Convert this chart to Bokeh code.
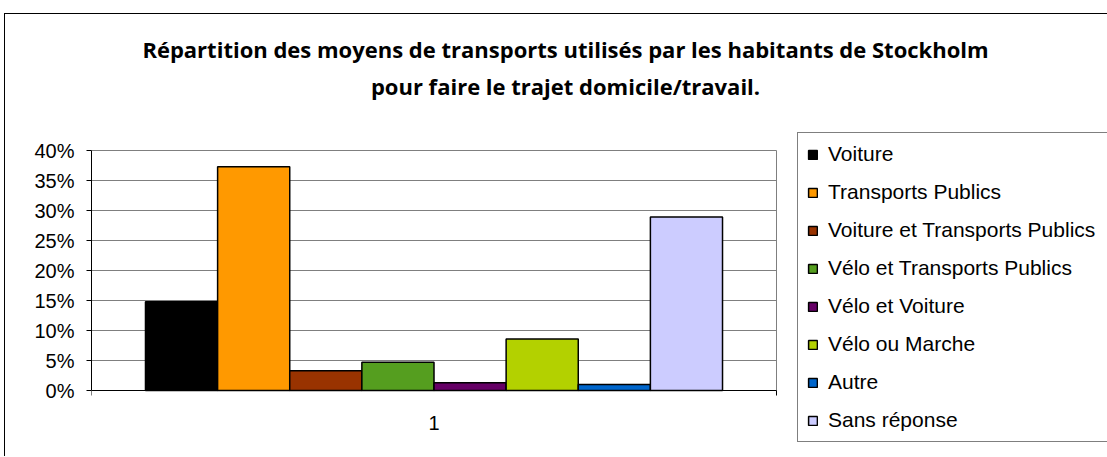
from bokeh.plotting import figure
from bokeh.models import (Range1d, FixedTicker, NumeralTickFormatter, Legend, LegendItem,
                          Label, ColumnDataSource)
from bokeh.embed import file_html
from bokeh.resources import INLINE

# ---- data ----
modes = ["Voiture", "Transports Publics", "Voiture et Transports Publics",
         "Vélo et Transports Publics", "Vélo et Voiture", "Vélo ou Marche",
         "Autre", "Sans réponse"]
shares = [0.148, 0.373, 0.033, 0.047, 0.013, 0.086, 0.010, 0.289]
colors = ["#000000", "#FF9900", "#993300", "#559E1F", "#660066", "#B3D100",
          "#0066CC", "#CCCCFF"]
category = ["1"]
y_ticks = [0, 0.05, 0.10, 0.15, 0.20, 0.25, 0.30, 0.35, 0.40]
title_lines = ["Répartition des moyens de transports utilisés par les habitants de Stockholm",
               "pour faire le trajet domicile/travail."]

FONT = "Liberation Sans"
TFONT = "Open Sans"

# ---- geometry (pixels) ----
FIG_W, FIG_H = 1103, 443
LEFT = 86                 # frame left inside the figure
PLOT_W, PLOT_H = 685, 240  # plot-area size
PLOT_TOP = 136             # plot-area top inside the figure
PLOT_BOTTOM = PLOT_TOP + PLOT_H
YMAX = y_ticks[-1]
ppy = PLOT_H / YMAX        # pixels per y unit
ppx = PLOT_W / 1.0         # pixels per x unit (category spans 0.5..1.5)
frame_w = FIG_W - LEFT

y_range = Range1d(-(FIG_H - PLOT_BOTTOM) / ppy, PLOT_BOTTOM / ppy)
x_range = Range1d(0.5, 0.5 + frame_w / ppx)

p = figure(width=FIG_W, height=FIG_H, output_backend="svg", toolbar_location=None,
           x_range=x_range, y_range=y_range, x_axis_location=None,
           min_border_left=LEFT, min_border_right=0, min_border_top=0,
           min_border_bottom=0)
p.margin = (13, 0, 0, 4)
p.styles = {"border-top": "1px solid #000000", "border-left": "1px solid #000000"}
p.background_fill_color = "white"
p.border_fill_color = "white"
p.outline_line_color = None
p.xgrid.visible = False
p.ygrid.visible = False

# y axis
p.yaxis.bounds = (0, YMAX)
p.yaxis.ticker = FixedTicker(ticks=y_ticks)
p.yaxis.formatter = NumeralTickFormatter(format="0%")
p.yaxis.major_label_text_font = FONT
p.yaxis.major_label_text_font_size = "20px"
p.yaxis.major_label_text_color = "#000000"
p.yaxis.major_tick_in = 0
p.yaxis.major_tick_out = 5
p.yaxis.minor_tick_line_color = None
p.yaxis.axis_line_color = "#000000"
p.yaxis.major_tick_line_color = "#000000"
p.yaxis.major_label_standoff = 12

# gridlines + plot-area right border (gray)
grid_y = y_ticks[1:]
p.segment(x0=[0.5] * len(grid_y), x1=[1.5] * len(grid_y), y0=grid_y, y1=grid_y,
          line_color="#7f7f7f", line_width=1)
p.segment(x0=[1.5], x1=[1.5], y0=[0], y1=[YMAX], line_color="#7f7f7f", line_width=1)

# bars
n = len(modes)
W = 0.1053
items = []
for i, (m, v, c) in enumerate(zip(modes, shares, colors)):
    xc = 1.0 - W * n / 2 + W * (i + 0.5)
    src = ColumnDataSource(dict(x=[xc], top=[v]))
    r = p.vbar(x="x", top="top", width=W, bottom=0, source=src,
               fill_color=c, line_color="#000000", line_width=1.5)
    items.append(LegendItem(label=m, renderers=[r]))

# category axis (line, boundary ticks, label)
tick_len = 5 / ppy
p.segment(x0=[0.5], x1=[1.5], y0=[0], y1=[0], line_color="#000000", line_width=1)
p.segment(x0=[0.5, 1.5], x1=[0.5, 1.5], y0=[0, 0], y1=[-tick_len, -tick_len],
          line_color="#000000", line_width=1)
p.add_layout(Label(x=1.0, y=0, y_offset=-32, text=category[0], text_align="center",
                   text_baseline="middle", text_font=FONT, text_font_size="20px",
                   text_color="#000000"))

legend = Legend(items=items, location=(706, 15))
legend.label_text_font = FONT
legend.label_text_font_size = "21px"
legend.label_text_color = "#000000"
legend.glyph_width = 11
legend.glyph_height = 11
legend.label_height = 20
legend.label_width = 330
legend.label_standoff = 10
legend.spacing = 14
legend.padding = 9
legend.margin = 0
legend.border_line_color = "#000000"
legend.border_line_width = 1
legend.background_fill_color = "white"
legend.background_fill_alpha = 1
p.add_layout(legend, "center")

# title (two lines, centred on the whole chart)
for txt, yy in zip(title_lines, [FIG_H - 34, FIG_H - 71]):
    p.add_layout(Label(x=474, y=yy, x_units="screen", y_units="screen", text=txt,
                       text_align="center", text_baseline="middle",
                       text_font=TFONT, text_font_style="bold",
                       text_font_size="22px", text_color="#000000"))

open("out.html", "w").write(file_html(p, INLINE))
